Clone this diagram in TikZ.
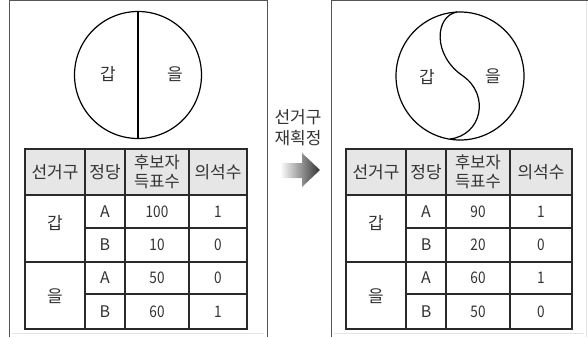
\documentclass[tikz,border=0pt]{standalone}
\usepackage{fontspec}
\setmainfont{Noto Sans CJK KR}
\newfontfamily\narrowdigits{Noto Sans CJK KR}[FakeStretch=0.85]
\definecolor{txt}{HTML}{333333}
\definecolor{tabline}{HTML}{2A2A2A}
\definecolor{panelline}{HTML}{555555}
\definecolor{hdrfill}{HTML}{E6E6E6}
\definecolor{faint}{HTML}{E4E4E4}
\begin{document}
\begin{tikzpicture}[x=1pt,y=-1pt,
  every node/.style={inner sep=0pt, text=txt},
  lbl/.style={font=\fontsize{17}{19}\selectfont},
  num/.style={font=\narrowdigits\fontsize{16}{17}\selectfont},
  lett/.style={font=\fontsize{16}{17}\selectfont},
  hdr2/.style={font=\fontsize{16.5}{19}\selectfont, align=center},
  grid/.style={draw=tabline, line width=1.2pt},
  panel/.style={draw=panelline, line width=1pt},
  circ/.style={draw=black, line width=1.2pt},
  hdrbg/.style={fill=hdrfill}]
\useasboundingbox (0,0) rectangle (588,337);
% panels
\draw[panel] (9,337) -- (9,1) -- (267,1) -- (267,337);
\draw[panel] (331,337) -- (331,1) -- (588,1);
\draw[faint, line width=0.8pt] (586,1) -- (586,337);
\draw[faint, line width=0.8pt] (12,333) -- (264,333);
\draw[faint, line width=0.8pt] (334,333) -- (584,333);

% left circle
\draw[circ] (138,75) circle[radius=63.5];
\draw[circ] (138,11.5) -- (138,138.5);
\node[lbl] (lg) at (108,74) {갑};
\node[lbl] (le) at (175,74) {을};

% right circle
\draw[circ] (460,76) circle[radius=64];
\draw[circ] (457,12) .. controls (435,16) and (432,55) .. (463,76)
  .. controls (490,95) and (482,135) .. (450,139);
\node[lbl] (rg) at (427,77) {갑};
\node[lbl] (re) at (493,76) {을};

% arrow
\shade[left color=white, right color=black!80]
  (280,163) -- (302,163) -- (302,153) -- (320,170) -- (302,187) -- (302,178) -- (280,178) -- cycle;
\node[lbl] (t1) at (298,117) {선거구};
\node[lbl] (t2) at (298,138) {재획정};

% left table
\fill[hdrbg] (25,149) rectangle (247,195);
\draw[grid] (25,149) rectangle (247,329);
\draw[grid] (25,195) -- (247,195);
\draw[grid] (85,228) -- (247,228);
\draw[grid] (25,262) -- (247,262);
\draw[grid] (85,294) -- (247,294);
\draw[grid] (85,149) -- (85,329);
\draw[grid] (125,149) -- (125,329);
\draw[grid] (189,149) -- (189,329);
\node[lbl] (lh1) at (55,172) {선거구};
\node[lbl] (lh2) at (105,172) {정당};
\node[hdr2] (lh3) at (157,172) {후보자\\득표수};
\node[lbl] (lh4) at (218,172) {의석수};
\node[lbl] (ld1) at (55,223) {갑};
\node[lbl] (ld2) at (55,296) {을};
\node[lett] (la1) at (105,211.5) {A};
\node[lett] (la2) at (105,245) {B};
\node[lett] (la3) at (105,278) {A};
\node[lett] (la4) at (105,311.5) {B};
\node[num] (lv1) at (157,211.5) {100};
\node[num] (lv2) at (157,245) {10};
\node[num] (lv3) at (157,278) {50};
\node[num] (lv4) at (157,311.5) {60};
\node[num] (ls1) at (218,211.5) {1};
\node[num] (ls2) at (218,245) {0};
\node[num] (ls3) at (218,278) {0};
\node[num] (ls4) at (218,311.5) {1};

% right table
\fill[hdrbg] (346,149) rectangle (572,195);
\draw[grid] (346,149) rectangle (572,329);
\draw[grid] (346,195) -- (572,195);
\draw[grid] (406,228) -- (572,228);
\draw[grid] (346,262) -- (572,262);
\draw[grid] (406,294) -- (572,294);
\draw[grid] (406,149) -- (406,329);
\draw[grid] (446,149) -- (446,329);
\draw[grid] (510,149) -- (510,329);
\node[lbl] (rh1) at (376,172) {선거구};
\node[lbl] (rh2) at (426,172) {정당};
\node[hdr2] (rh3) at (478,172) {후보자\\득표수};
\node[lbl] (rh4) at (541,172) {의석수};
\node[lbl] (rd1) at (376,223) {갑};
\node[lbl] (rd2) at (376,296) {을};
\node[lett] (ra1) at (426,211.5) {A};
\node[lett] (ra2) at (426,245) {B};
\node[lett] (ra3) at (426,278) {A};
\node[lett] (ra4) at (426,311.5) {B};
\node[num] (rv1) at (478,211.5) {90};
\node[num] (rv2) at (478,245) {20};
\node[num] (rv3) at (478,278) {60};
\node[num] (rv4) at (478,311.5) {50};
\node[num] (rs1) at (541,211.5) {1};
\node[num] (rs2) at (541,245) {0};
\node[num] (rs3) at (541,278) {1};
\node[num] (rs4) at (541,311.5) {0};
\end{tikzpicture}
\end{document}
